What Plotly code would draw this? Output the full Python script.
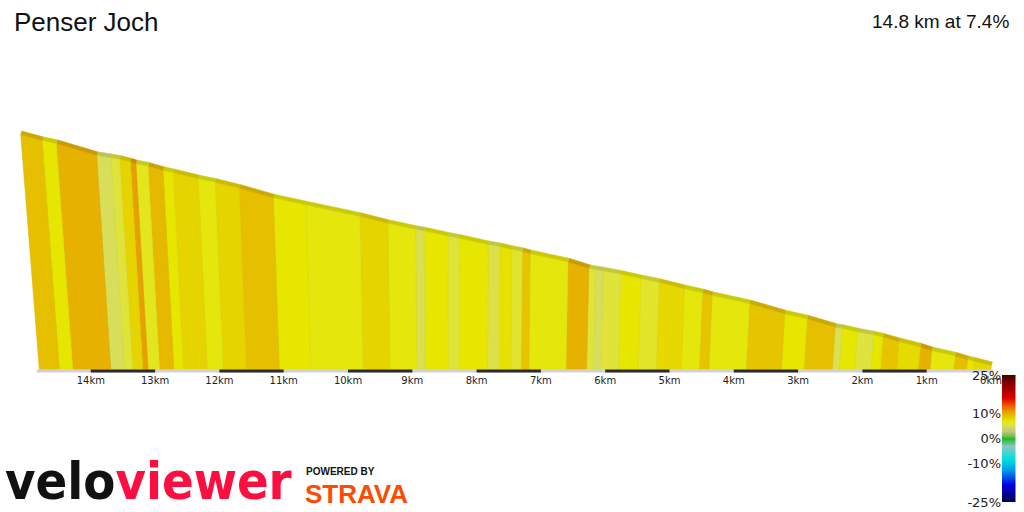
import numpy as np
import plotly.graph_objects as go

# ---------------- data ----------------
title_text = "Penser Joch"
summary_text = "14.8 km at 7.4%"

# segment boundaries (km from the start of the climb)
boundaries_km = [0, 0.28, 0.38, 0.58, 0.95, 1.13, 1.47, 1.72, 1.87, 2.12, 2.36, 2.47,
                 2.91, 3.26, 3.81, 4.39, 4.54, 4.82, 5.21, 5.49, 5.80, 6.07, 6.19, 6.29,
                 6.61, 7.19, 7.31, 7.47, 7.65, 7.83, 8.27, 8.44, 8.80, 8.93, 9.35, 9.77,
                 10.58, 11.07, 11.58, 11.94, 12.19, 12.56, 12.71, 12.93, 13.11, 13.19,
                 13.35, 13.48, 13.69, 14.28, 14.49, 14.8]
# gradient of each segment (%)
grades_pct = [7.8, 7.0, 9.0, 6.8, 9.7, 7.6, 8.8, 7.0, 5.8, 7.0, 5.3, 9.0,
              7.0, 8.8, 6.8, 8.8, 6.8, 7.8, 6.3, 7.0, 6.0, 5.0, 6.0, 9.7,
              6.8, 8.8, 6.2, 7.3, 5.5, 7.0, 6.0, 7.0, 5.3, 6.8, 8.0, 6.8,
              7.0, 9.0, 8.0, 6.8, 8.0, 7.0, 9.3, 6.5, 10.5, 8.0,
              6.0, 5.0, 9.7, 7.0, 9.0]

km_ticks = list(range(0, 15))
km_labels = [f"{k}km" for k in km_ticks]

scale_ticks = [25, 10, 0, -10, -25]
scale_labels = ["25%", "10%", "0%", "-10%", "-25%"]

# gradient colour scale (grade %, colour)
grade_stops = [-25, -18, -13, -8, -3, -1, 0, 1, 3, 5, 6, 7, 8, 9, 10, 11, 13, 16, 20, 25]
grade_colors = ["#000048", "#0000e6", "#0090e8", "#00e0e0", "#88c8c4", "#40c060",
                "#10c010", "#70c050", "#c4c878", "#d8de5a", "#e0e43a", "#e6e600",
                "#e6d400", "#e6c000", "#e6aa00", "#ea9400", "#f05a00", "#dc0000",
                "#a00000", "#4a0000"]

# ---------------- helpers ----------------
def hex2rgb(h):
    h = h.lstrip("#")
    return np.array([int(h[i:i + 2], 16) for i in (0, 2, 4)], dtype=float)

stop_rgb = np.array([hex2rgb(c) for c in grade_colors])

def grade_rgb(g):
    return np.array([np.interp(g, grade_stops, stop_rgb[:, k]) for k in range(3)])

def rgb_str(v, f=1.0):
    v = np.clip(v * f, 0, 255)
    return "rgb(%d,%d,%d)" % tuple(int(round(x)) for x in v)

# ---------------- geometry ----------------
W, H = 1024, 512
PX_PER_KM = 64.3
X0_PX = 991.0            # pixel of 0 km
PLOT_BOTTOM_PX = 373.0
BASE_PX = 369.5
TOP_H_PX, END_H_PX = 235.0, 4.0
VX, DV = 467.0, 5400.0   # perspective vanishing point
BAND_PX = 3.5

b = np.array(boundaries_km, dtype=float)
g = np.array(grades_pct, dtype=float)
elev = np.concatenate([[0.0], np.cumsum(g / 100.0 * np.diff(b) * 1000.0)])
gain = elev[-1]
ppm = (TOP_H_PX - END_H_PX) / gain
base = elev[0] - END_H_PX / ppm

x_range = [X0_PX / PX_PER_KM, (X0_PX - W) / PX_PER_KM]
y_range = [base - (PLOT_BOTTOM_PX - BASE_PX) / ppm, base + BASE_PX / ppm]

def top_d(d, e):
    xb = X0_PX - d * PX_PER_KM
    h = (e - base) * ppm
    s = h * (xb - VX) / DV
    return d - s / PX_PER_KM

dt = top_d(b, elev)
band_e = BAND_PX / ppm
band_d = 1.0 / PX_PER_KM

fig = go.Figure()

for i in range(len(g)):
    c = grade_rgb(g[i])
    d1, d2 = b[i], b[i + 1]
    e1, e2 = elev[i], elev[i + 1]
    t1, t2 = dt[i], dt[i + 1]
    fig.add_trace(go.Scatter(
        x=[d1, d2, t2, t1, d1], y=[base, base, e2, e1, base],
        mode="lines", fill="toself", fillcolor=rgb_str(c),
        line=dict(color=rgb_str(c, 0.95), width=0.6),
        hoverinfo="skip", showlegend=False))
    fig.add_trace(go.Scatter(
        x=[t1, t2, t2 - band_d, t1 - band_d, t1],
        y=[e1, e2, e2 + band_e, e1 + band_e, e1],
        mode="lines", fill="toself", fillcolor=rgb_str(c, 0.88),
        line=dict(color=rgb_str(c, 0.88), width=0.5),
        hoverinfo="skip", showlegend=False))

# km scale strip under the profile
strip_y = base - 1.5 / ppm
fig.add_trace(go.Scatter(x=[b[-1] + 0.04, b[0] - 0.03], y=[strip_y, strip_y], mode="lines",
                         line=dict(color="#d2d2d2", width=3), hoverinfo="skip", showlegend=False))
for k in km_ticks:
    if k % 2 == 1 and k + 1 <= b[-1]:
        fig.add_trace(go.Scatter(x=[k, k + 1], y=[strip_y, strip_y], mode="lines",
                                 line=dict(color="#2b2b2b", width=3),
                                 hoverinfo="skip", showlegend=False))

# colour bar as a heatmap
cb_vals = np.linspace(scale_ticks[-1], scale_ticks[0], 201)
cscale = [[(s - grade_stops[0]) / (grade_stops[-1] - grade_stops[0]), c]
          for s, c in zip(grade_stops, grade_colors)]
fig.add_trace(go.Heatmap(z=cb_vals.reshape(-1, 1), y=cb_vals, x=[0],
                         colorscale=cscale, zmin=-25, zmax=25, showscale=False,
                         zsmooth="best", xaxis="x2", yaxis="y2", hoverinfo="skip"))

def px2x(px):
    return px / W

def px2y(py):
    return 1 - py / H

fig.update_layout(
    width=W, height=H, margin=dict(l=0, r=0, t=0, b=0, autoexpand=False),
    paper_bgcolor="white", plot_bgcolor="white", hovermode=False,
    xaxis=dict(domain=[0, 1], range=x_range, showgrid=False, zeroline=False,
               showline=False, tickvals=km_ticks, ticktext=km_labels, ticks="",
               automargin=False,
               tickfont=dict(family="DejaVu Sans", size=10, color="#222")),
    yaxis=dict(domain=[px2y(PLOT_BOTTOM_PX), 1], range=y_range, visible=False, automargin=False),
    xaxis2=dict(domain=[px2x(1002), px2x(1015.5)], anchor="y2", visible=False,
                range=[-0.5, 0.5], automargin=False),
    yaxis2=dict(domain=[px2y(502), px2y(375)], anchor="x2", range=[-25, 25], side="left",
                showgrid=False, zeroline=False, showline=False, ticks="", automargin=False,
                tickvals=scale_ticks, ticktext=scale_labels,
                tickfont=dict(family="DejaVu Sans", size=13, color="#222")),
)

fig.add_annotation(x=px2x(12), y=px2y(22), xref="paper", yref="paper", text=title_text,
                   showarrow=False, xanchor="left", yanchor="middle",
                   font=dict(family="Liberation Sans, Arial", size=26, color="#111"))
fig.add_annotation(x=px2x(1011), y=px2y(21), xref="paper", yref="paper", text=summary_text,
                   showarrow=False, xanchor="right", yanchor="middle",
                   font=dict(family="Liberation Sans, Arial", size=19, color="#111"))
fig.add_annotation(x=px2x(3), y=px2y(481), xref="paper", yref="paper",
                   text="<b><span style='color:#111111'>velo</span><span style='color:#fb0f40'>viewer</span></b>",
                   showarrow=False, xanchor="left", yanchor="middle",
                   font=dict(family="DejaVu Sans Condensed, Liberation Sans", size=52))
fig.add_annotation(x=px2x(304), y=px2y(471), xref="paper", yref="paper", text="<b>POWERED BY</b>",
                   showarrow=False, xanchor="left", yanchor="middle",
                   font=dict(family="Liberation Sans, Arial", size=10, color="#111"))
fig.add_annotation(x=px2x(303), y=px2y(494), xref="paper", yref="paper", text="<b>STRAVA</b>",
                   showarrow=False, xanchor="left", yanchor="middle",
                   font=dict(family="Liberation Sans, Arial", size=26, color="#fc4c02"))

fig.write_html("out.html")
